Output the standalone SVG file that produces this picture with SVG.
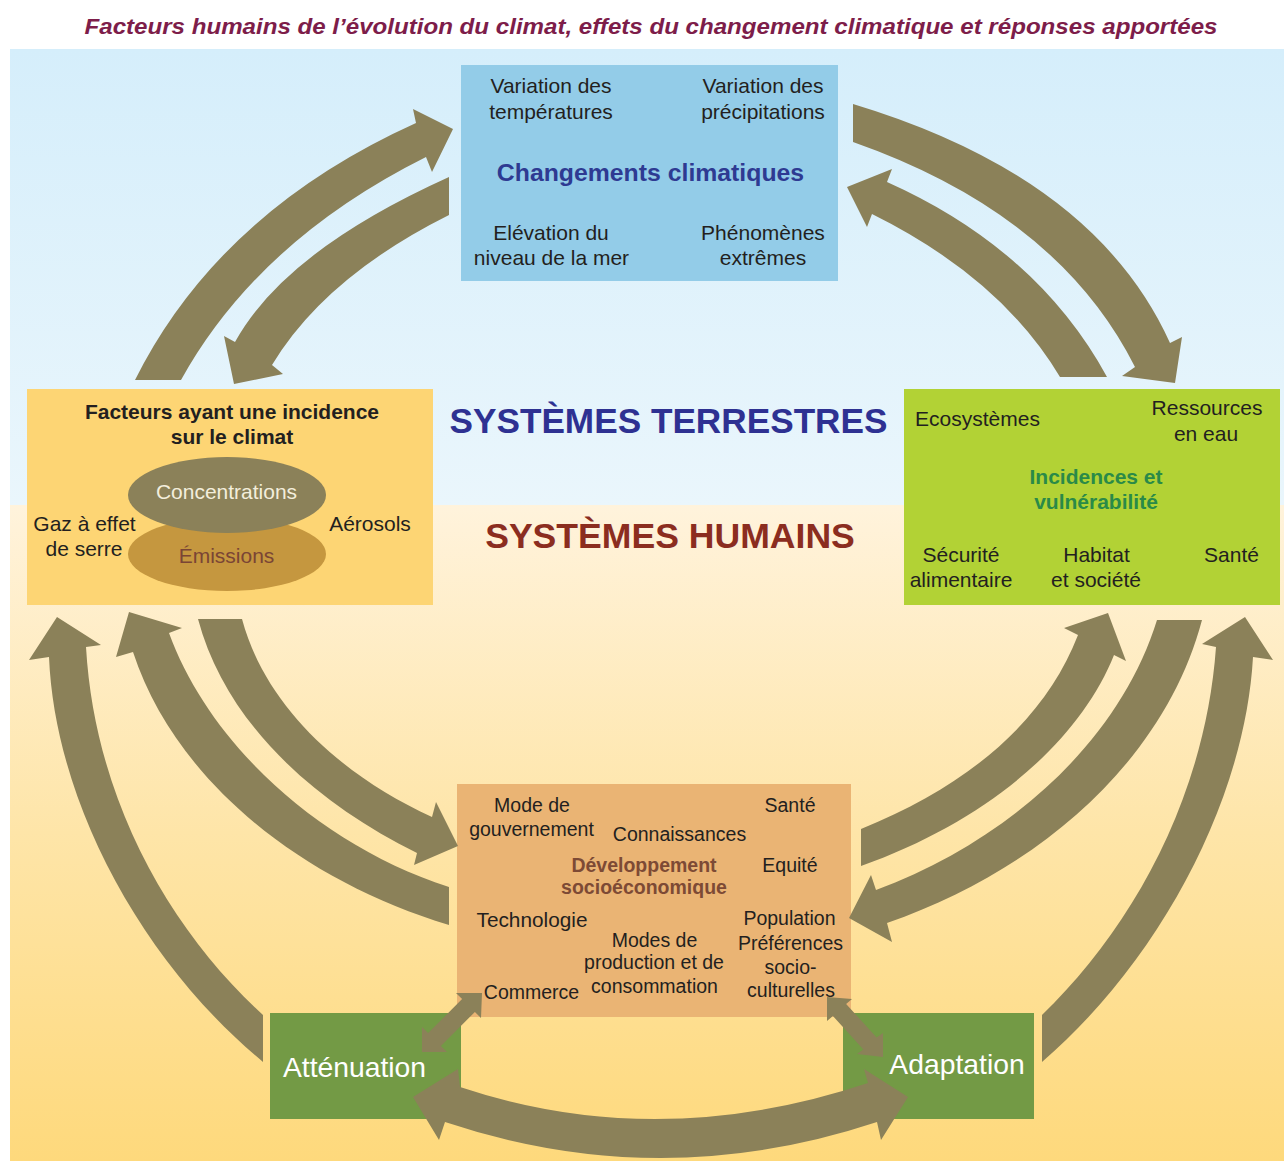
<svg xmlns="http://www.w3.org/2000/svg" width="1284" height="1161" viewBox="0 0 1284 1161">
<defs>
<linearGradient id="gBlue" x1="0" y1="0" x2="0" y2="1">
<stop offset="0" stop-color="#d5eefb"/>
<stop offset="1" stop-color="#eaf6fc"/>
</linearGradient>
<linearGradient id="gCream" x1="0" y1="0" x2="0" y2="1">
<stop offset="0" stop-color="#fff3dc"/>
<stop offset="0.5" stop-color="#fee5a8"/>
<stop offset="1" stop-color="#fed97c"/>
</linearGradient>
<style>
text{font-family:"Liberation Sans",Arial,Helvetica,sans-serif;text-anchor:middle;fill:#231f20}
.s21{font-size:21px}
.s19{font-size:19.5px}
.b{font-weight:bold}
.arr{fill:#8b8159}
.w{fill:#ffffff}
</style>
</defs>
<rect x="0" y="0" width="1284" height="1161" fill="#ffffff"/>
<rect x="10" y="49" width="1274" height="457" fill="url(#gBlue)"/>
<rect x="10" y="505" width="1274" height="656" fill="url(#gCream)"/>
<text x="651" y="34" font-size="22" font-weight="bold" font-style="italic" fill="#7d1d4a" style="fill:#7d1d4a" textLength="1133" lengthAdjust="spacingAndGlyphs">Facteurs humains de l’évolution du climat, effets du changement climatique et réponses apportées</text>
<text x="668.5" y="433" class="b" font-size="35.2" style="fill:#2e3192">SYSTÈMES TERRESTRES</text>
<text x="670" y="548" class="b" font-size="35.6" style="fill:#8b2d1f">SYSTÈMES HUMAINS</text>
<g id="changements-climatiques">
<rect x="461" y="65" width="377" height="216" fill="#93cce8"/>
<text class="s21" x="551" y="93">Variation des</text>
<text class="s21" x="551" y="119">températures</text>
<text class="s21" x="763" y="93">Variation des</text>
<text class="s21" x="763" y="119">précipitations</text>
<text class="b" font-size="24.8" x="650.5" y="181" style="fill:#2e3a92">Changements climatiques</text>
<text class="s21" x="551" y="240">Elévation du</text>
<text class="s21" x="551.5" y="265">niveau de la mer</text>
<text class="s21" x="763" y="240">Phénomènes</text>
<text class="s21" x="763" y="265">extrêmes</text>
</g>
<g id="facteurs">
<rect x="27" y="389" width="406" height="216" fill="#fdd574"/>
<text class="b" font-size="21" x="232" y="419">Facteurs ayant une incidence</text>
<text class="b" font-size="21" x="232" y="444">sur le climat</text>
<ellipse cx="227" cy="554" rx="99" ry="37" fill="#c5973f"/>
<ellipse cx="227" cy="495" rx="99" ry="38" fill="#8b8159"/>
<text class="s21" x="226.5" y="499" style="fill:#f3eedc">Concentrations</text>
<text class="s21" x="226.5" y="563" style="fill:#7a4535">Émissions</text>
<text class="s21" x="84.5" y="531">Gaz à effet</text>
<text class="s21" x="84" y="556">de serre</text>
<text class="s21" x="370" y="531">Aérosols</text>
</g>
<g id="incidences">
<rect x="904" y="389" width="376" height="216" fill="#b2d235"/>
<text class="s21" x="977.5" y="426">Ecosystèmes</text>
<text class="s21" x="1207" y="415">Ressources</text>
<text class="s21" x="1206" y="441">en eau</text>
<text class="s21 b" x="1096" y="484" style="fill:#2a8a48">Incidences et</text>
<text class="s21 b" x="1096" y="509" style="fill:#2a8a48">vulnérabilité</text>
<text class="s21" x="961" y="562">Sécurité</text>
<text class="s21" x="961" y="587">alimentaire</text>
<text class="s21" x="1096.5" y="562">Habitat</text>
<text class="s21" x="1096" y="587">et société</text>
<text class="s21" x="1231.5" y="562">Santé</text>
</g>
<g id="developpement">
<rect x="457" y="784" width="394" height="233" fill="#eab474"/>
<text class="s19" x="532" y="812">Mode de</text>
<text class="s19" x="531.5" y="836">gouvernement</text>
<text class="s19" x="790" y="812">Santé</text>
<text class="s19" x="679.5" y="841">Connaissances</text>
<text class="s19 b" x="644" y="872" style="fill:#7d4a35">Développement</text>
<text class="s19 b" x="644" y="894" style="fill:#7d4a35">socioéconomique</text>
<text class="s19" x="790" y="872">Equité</text>
<text font-size="20.8" x="532" y="927">Technologie</text>
<text class="s19" x="789.5" y="925">Population</text>
<text class="s19" x="654.5" y="947">Modes de</text>
<text class="s19" x="790.5" y="950">Préférences</text>
<text class="s19" x="654" y="969">production et de</text>
<text class="s19" x="790.5" y="974">socio-</text>
<text class="s19" x="654.5" y="993">consommation</text>
<text class="s19" x="531.5" y="999">Commerce</text>
<text class="s19" x="791" y="997">culturelles</text>
</g>
<g id="attenuation">
<rect x="270" y="1013" width="191" height="106" fill="#739a45"/>
<text class="w" font-size="28.3" x="354.5" y="1077" style="fill:#ffffff">Atténuation</text>
</g>
<g id="adaptation">
<rect x="843" y="1013" width="191" height="106" fill="#739a45"/>
<text class="w" font-size="28.3" x="957" y="1074" style="fill:#ffffff">Adaptation</text>
</g>
<g id="connectors">
<path class="arr" d="M135,380 Q219,212 416,123 L413,109 L453,129 L432,172 L426,157 Q258,241 181,380 Z"/>
<path class="arr" d="M449,177 Q285,251 235,342 L224,336 L234,384 L283,374 L272,365 Q325,277 449,215 Z"/>
<path class="arr" d="M853,104 Q1095,177 1170,343 L1182,337 L1175,383 L1122,376 L1135,367 Q1058,214 853,142 Z"/>
<path class="arr" d="M1107,377 Q1037,249 887,182 L892,169 L847,187 L867,227 L872,214 Q1001,278 1060,377 Z"/>
<path class="arr" d="M263,1062 C140,960 55,800 49,657 L29,660 L57,617 L101,645 L86,647 C95,800 170,930 263,1015 Z"/>
<path class="arr" d="M449,925 C300,880 175,780 133,652 L116,657 L129,612 L182,628 L169,633 C210,745 320,845 449,887 Z"/>
<path class="arr" d="M198,619 C225,720 310,800 417,853 L414,865 L458,846 L436,802 L432,817 C340,775 265,705 242,619 Z"/>
<path class="arr" d="M861,829 C970,785 1045,720 1078,635 L1064,628 L1108,613 L1126,661 L1114,655 C1080,740 990,820 861,866 Z"/>
<path class="arr" d="M1157,620 C1120,740 1010,840 876,890 L871,875 L849,918 L892,942 L887,923 C1040,870 1165,760 1202,620 Z"/>
<path class="arr" d="M1042,1062 C1160,960 1245,800 1253,657 L1273,660 L1245,617 L1202,644 L1216,647 C1205,800 1130,930 1042,1015 Z"/>
<path class="arr" d="M460,1087 Q658,1153 868,1083 L864,1069 L908,1097 L881,1140 L877,1122 Q660,1194 445,1122 L439,1140 L413,1097 L458,1069 Z"/>
<path class="arr" d="M482,993 L481,1018 L474.9,1011.9 L440.9,1045.9 L447,1052 L422,1052 L422,1027 L428.1,1033.1 L462.1,999.1 L456,993 Z"/>
<path class="arr" d="M827,997 L852,999 L846.1,1003.9 L876.6,1037.4 L883,1033 L883,1057 L857,1054 L863.4,1049.6 L832.9,1016.1 L827,1021 Z"/>
</g>
</svg>
